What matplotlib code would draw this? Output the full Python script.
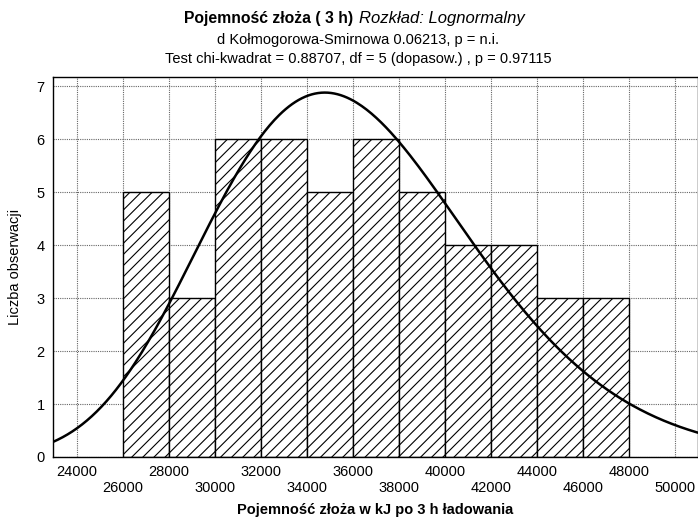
import numpy as np
import matplotlib
matplotlib.use("Agg")
import matplotlib.pyplot as plt

plt.rcParams['font.family'] = ['Liberation Sans', 'DejaVu Sans']
plt.rcParams['hatch.linewidth'] = 0.8

# Dane histogramu (przedziały co 2000 kJ)
bin_edges = [26000, 28000, 30000, 32000, 34000, 36000, 38000,
             40000, 42000, 44000, 46000, 48000]
counts = [5, 3, 6, 6, 5, 6, 5, 4, 4, 3, 3]

x_ticks = list(range(24000, 50001, 2000))
y_ticks = [0, 1, 2, 3, 4, 5, 6, 7]

# Dopasowanie rozkładu lognormalnego do danych (środki przedziałów)
edges = np.array(bin_edges, dtype=float)
mids = (edges[:-1] + edges[1:]) / 2
w = np.array(counts, dtype=float)
n = w.sum()
logm = np.log(mids)
mu = np.sum(w * logm) / n
sigma = np.sqrt(np.sum(w * (logm - mu) ** 2) / (n - 1))
width = edges[1] - edges[0]

x_lo, x_hi = 22950, 51000
xs = np.linspace(x_lo, x_hi, 400)
pdf = np.exp(-(np.log(xs) - mu) ** 2 / (2 * sigma ** 2)) / (xs * sigma * np.sqrt(2 * np.pi))
expected = pdf * n * width

fig = plt.figure(figsize=(6.98, 5.25), dpi=100)
ax = fig.add_axes([53 / 698, 1 - 457 / 525, 1 - 53 / 698, (457 - 77) / 525])

ax.bar(edges[:-1], counts, width=np.diff(edges), align='edge',
       facecolor='white', edgecolor='black', linewidth=1.0, hatch='///', zorder=2)
ax.plot(xs, expected, color='black', linewidth=1.8, zorder=3)

ax.set_xlim(x_lo, x_hi)
ax.set_ylim(0, 7.17)
ax.set_xticks(x_ticks)
ax.set_xticklabels([str(v) if i % 2 == 0 else '\n' + str(v) for i, v in enumerate(x_ticks)],
                   fontsize=10.5, linespacing=1.15)
ax.set_yticks(y_ticks)
ax.set_yticklabels([str(v) for v in y_ticks], fontsize=10.5)
ax.tick_params(length=0, pad=6)
ax.set_axisbelow(True)
ax.grid(True, color='#666666', linestyle=(0, (1, 1)), linewidth=0.8)
for s in ax.spines.values():
    s.set_linewidth(1.0)
    s.set_color('black')

ax.set_xlabel('Pojemność złoża w kJ po 3 h ładowania', fontsize=10.5,
              fontweight='bold', labelpad=6)
fig.text(15 / 698, 1 - 267 / 525, 'Liczba obserwacji', rotation=90,
         fontsize=10.5, ha='center', va='center')

fig.text(353 / 698, 1 - 18 / 525, 'Pojemność złoża ( 3 h)', fontsize=11.3,
         fontweight='bold', ha='right', va='center')
fig.text(359 / 698, 1 - 18 / 525, 'Rozkład: Lognormalny', fontsize=12,
         style='italic', ha='left', va='center')
fig.text(358 / 698, 1 - 40 / 525, 'd Kołmogorowa-Smirnowa 0.06213, p = n.i.',
         fontsize=10.5, ha='center', va='center')
fig.text(358 / 698, 1 - 59 / 525,
         'Test chi-kwadrat = 0.88707, df = 5 (dopasow.) , p = 0.97115',
         fontsize=10.5, ha='center', va='center')

fig.savefig('out.png', dpi=100)
